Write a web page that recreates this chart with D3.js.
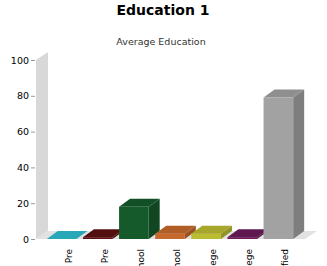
<!DOCTYPE html>
<html>
<head>
<meta charset="utf-8">
<script src="https://cdn.jsdelivr.net/npm/d3@7"></script>
<style>
  body { margin: 0; background: #fff; }
  svg { display: block; font-family: "DejaVu Sans", sans-serif; }
</style>
</head>
<body>
<svg id="chart" width="327" height="266"></svg>
<script>
// data
var categories = ["Less than Pre", "Pre", "Primary School", "High School", "Some College", "College", "Unspecified"];
var values = [0, 1, 18, 3, 3, 1, 79];
var colors = ["#27a7b8", "#5e1212", "#145a2b", "#c7692c", "#bcbc30", "#6c1a5a", "#a2a2a2"];
var yTicks = [0, 20, 40, 60, 80, 100];

var svg = d3.select("#chart");

var plot = { left: 36, right: 304, top: 60, bottom: 239 };
var depth = { dx: 11, dy: -8 };

var xScale = d3.scaleBand()
  .domain(categories)
  .range([plot.left, plot.right])
  .paddingInner(0.18)
  .paddingOuter(0.3);

var yScale = d3.scaleLinear()
  .domain([0, 100])
  .range([plot.bottom, plot.top]);

var pts = function(arr) {
  return arr.map(function(p) { return p[0] + "," + p[1]; }).join(" ");
};

// title
svg.append("text")
  .attr("x", 163)
  .attr("y", 15)
  .attr("text-anchor", "middle")
  .style("font-size", "14px")
  .style("font-weight", "bold")
  .style("fill", "#000")
  .text("Education 1");

svg.append("text")
  .attr("x", 161)
  .attr("y", 45)
  .attr("text-anchor", "middle")
  .style("font-size", "9.5px")
  .style("fill", "#333")
  .text("Average Education");

// back wall (left side) and floor
var x0 = plot.left, x1 = plot.right + 1;
var yTop = yScale(100), yBot = yScale(0);
svg.append("polygon")
  .attr("points", pts([[x0, yTop], [x0 + depth.dx + 1, yTop + depth.dy], [x0 + depth.dx + 1, yBot + depth.dy], [x0, yBot]]))
  .style("fill", "#d8d8d8");
svg.append("polygon")
  .attr("points", pts([[x0, yBot], [x0 + depth.dx + 1, yBot + depth.dy], [x1 + depth.dx + 1, yBot + depth.dy], [x1, yBot]]))
  .style("fill", "#e2e2e2");

// y axis
var yAxis = d3.axisLeft(yScale)
  .tickValues(yTicks)
  .tickSize(4)
  .tickPadding(2);

var gy = svg.append("g")
  .attr("transform", "translate(" + (plot.left - 1) + ",0)")
  .call(yAxis);
gy.select(".domain").remove();
gy.selectAll(".tick line").style("stroke", "#999");
gy.selectAll(".tick text")
  .style("font-size", "9.5px")
  .style("font-family", "DejaVu Sans, sans-serif")
  .style("fill", "#000");

// 3d bars
var bars = svg.selectAll(".bar")
  .data(values)
  .enter()
  .append("g")
  .attr("class", "bar");

bars.each(function(d, i) {
  var g = d3.select(this);
  var bx = xScale(categories[i]);
  var bw = xScale.bandwidth();
  var top = yScale(d), bot = yScale(0);
  var base = d3.color(colors[i]);
  // side face
  g.append("polygon")
    .attr("points", pts([[bx + bw, top], [bx + bw + depth.dx, top + depth.dy], [bx + bw + depth.dx, bot + depth.dy], [bx + bw, bot]]))
    .style("fill", base.darker(0.7));
  // front face
  g.append("rect")
    .attr("x", bx)
    .attr("y", top)
    .attr("width", bw)
    .attr("height", bot - top)
    .style("fill", base);
  // top face
  g.append("polygon")
    .attr("points", pts([[bx, top], [bx + depth.dx, top + depth.dy], [bx + bw + depth.dx, top + depth.dy], [bx + bw, top]]))
    .style("fill", d > 0 ? base.darker(0.35) : base);
});

// x labels (rotated, clipped at the bottom like the original)
svg.selectAll(".xlabel")
  .data(categories)
  .enter()
  .append("text")
  .attr("class", "xlabel")
  .attr("transform", function(d) {
    return "translate(" + (xScale(d) + xScale.bandwidth() / 2 + 10) + ",249) rotate(-90)";
  })
  .attr("text-anchor", "end")
  .style("font-size", "9px")
  .style("fill", "#000")
  .text(function(d) { return d; });
</script>
</body>
</html>
